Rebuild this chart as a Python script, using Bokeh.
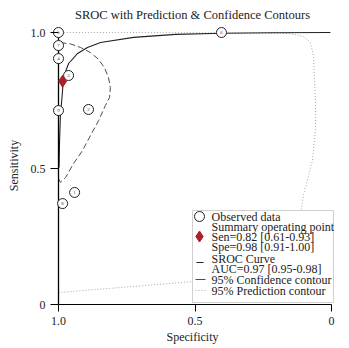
from bokeh.plotting import figure
from bokeh.models import Range1d, FixedTicker
from bokeh.core.properties import value
from bokeh.embed import file_html
from bokeh.resources import INLINE

# ---- data ----
study_ids = ["5", "7", "4", "3", "9", "2", "1", "8", "6"]
obs_spec = [1.0, 1.0, 1.0, 0.963, 1.0, 0.890, 0.941, 0.985, 0.403]
obs_sens = [1.0, 0.952, 0.904, 0.842, 0.713, 0.717, 0.412, 0.371, 1.0]

summary_spec = [0.985]
summary_sens = [0.821]

sroc_spec = [0.998, 0.996, 0.993, 0.986, 0.982, 0.963, 0.930, 0.894, 0.846, 0.725, 0.571, 0.400, 0.220, 0.004]
sroc_sens = [0.504, 0.603, 0.695, 0.776, 0.835, 0.886, 0.923, 0.945, 0.963, 0.982, 0.993, 0.997, 0.999, 1.0]

conf_spec = [0.993, 0.956, 0.919, 0.883, 0.853, 0.832, 0.817, 0.810, 0.813, 0.828, 0.853, 0.883,
             0.912, 0.945, 0.974, 0.993, 1.0, 1.0, 0.993]
conf_sens = [0.963, 0.958, 0.945, 0.926, 0.901, 0.871, 0.835, 0.798, 0.761, 0.732, 0.676, 0.621,
             0.566, 0.518, 0.467, 0.449, 0.463, 0.897, 0.963]

pred_spec = [1.0, 0.773, 0.498, 0.297, 0.187, 0.132, 0.114, 0.103, 0.084, 0.070, 0.059, 0.059,
             0.066, 0.077, 0.103, 0.150, 0.297, 0.663, 1.0, 1.0]
pred_sens = [0.044, 0.0625, 0.085, 0.107, 0.143, 0.235, 0.327, 0.401, 0.474, 0.529, 0.640, 0.750,
             0.915, 0.963, 0.985, 0.996, 0.998, 1.0, 1.0, 0.044]

x_ticks = [1.0, 0.5, 0.0]
x_tick_labels = ["1.0", "0.5", "0"]
y_ticks = [0.0, 0.5, 1.0]
y_tick_labels = ["0", "0.5", "1.0"]

title_text = "SROC with Prediction & Confidence Contours"
legend_lines = [
    "Observed data",
    "Summary operating point",
    "Sen=0.82 [0.61-0.93]",
    "Spe=0.98 [0.91-1.00]",
    "SROC Curve",
    "AUC=0.97 [0.95-0.98]",
    "95% Confidence contour",
    "95% Prediction contour",
]

FONT = "Liberation Serif"

# ---- layout (pixels) ----
W, H = 349, 348
FRAME_L, FRAME_R, FRAME_T, FRAME_B = 50, 334, 26, 304
X1_PX, X0_PX = 58, 331      # pixel of specificity 1.0 and 0
Y1_PX, Y0_PX = 32, 304      # pixel of sensitivity 1.0 and 0
SX = (X0_PX - X1_PX)        # px per unit
SY = (Y0_PX - Y1_PX)


def dx(px):
    return 1 - (px - X1_PX) / SX


def dy(py):
    return 1 - (py - Y1_PX) / SY


p = figure(width=W, height=H, output_backend="svg", toolbar_location=None,
           x_range=Range1d(dx(FRAME_L), dx(FRAME_R)), y_range=Range1d(dy(FRAME_B), dy(FRAME_T)),
           min_border_left=FRAME_L, min_border_right=W - FRAME_R,
           min_border_top=FRAME_T, min_border_bottom=H - FRAME_B,
           title=title_text)
p.outline_line_color = None
p.background_fill_color = "white"
p.border_fill_color = "white"
p.xgrid.visible = False
p.ygrid.visible = False

p.title.text_font = FONT
p.title.text_font_size = "12.5px"
p.title.text_font_style = "normal"
p.title.text_color = "#222222"
p.title.align = "center"
p.title.offset = 2

xa = p.xaxis[0]
xa.ticker = FixedTicker(ticks=x_ticks)
xa.major_label_overrides = {t: l for t, l in zip(x_ticks, x_tick_labels)}
xa.bounds = (0, 1)
xa.major_tick_out = 7
xa.major_tick_in = 0
xa.minor_tick_line_color = None
xa.axis_line_color = "black"
xa.major_tick_line_color = "black"
xa.major_label_standoff = 5
xa.axis_label = "Specificity"
xa.axis_label_standoff = 2

ya = p.yaxis[0]
ya.ticker = FixedTicker(ticks=y_ticks)
ya.major_label_overrides = {t: l for t, l in zip(y_ticks, y_tick_labels)}
ya.major_tick_out = 0
ya.major_tick_in = X1_PX - FRAME_L
ya.minor_tick_line_color = None
ya.axis_line_color = None
ya.major_tick_line_color = "black"
ya.major_label_standoff = 5
ya.axis_label = "Sensitivity"
ya.axis_label_standoff = 7

for ax in (xa, ya):
    ax.major_label_text_font = FONT
    ax.major_label_text_font_size = "12px"
    ax.major_label_text_color = "#222222"
    ax.axis_label_text_font = FONT
    ax.axis_label_text_font_size = "12px"
    ax.axis_label_text_font_style = "normal"
    ax.axis_label_text_color = "#222222"

PRED_STYLE = dict(line_color="#a8a8a8", line_width=1, line_dash="1 2")
CONF_STYLE = dict(line_color="#4d4d4d", line_width=1, line_dash="6 3")
SROC_STYLE = dict(line_color="#222222", line_width=1.1)
OBS_STYLE = dict(marker="circle", size=10, fill_color="white", line_color="#222222", line_width=1)
SUM_STYLE = dict(marker="diamond", size=12, fill_color="#a8202a", line_color="#a8202a")

p.line(pred_spec, pred_sens, **PRED_STYLE)
p.line(conf_spec, conf_sens, **CONF_STYLE)
p.line(sroc_spec, sroc_sens, **SROC_STYLE)

# left axis line at specificity = 1.0
p.segment(x0=[x_ticks[0]], y0=[y_ticks[0]], x1=[x_ticks[0]], y1=[y_ticks[-1]],
          line_color="black", line_width=1.3)

p.scatter(obs_spec, obs_sens, **OBS_STYLE)
p.text(x=obs_spec, y=obs_sens, text=study_ids, text_font=value(FONT), text_font_size="5px",
       text_align="center", text_baseline="middle", text_color="#8b1a1a")
p.scatter(summary_spec, summary_sens, **SUM_STYLE)

# ---- legend (key) ----
LEG_L, LEG_R, LEG_T, LEG_B = 192, 333, 210, 302
row_py = [216, 226, 236, 246, 258, 268, 279, 290]
TEXT_X = 211
GLYPH_X = 199

p.quad(left=[dx(LEG_L)], right=[dx(LEG_R)], top=[dy(LEG_T)], bottom=[dy(LEG_B)],
       fill_color="white", line_color="#d0d0d0", line_width=1)
p.scatter([dx(GLYPH_X)], [dy(row_py[0])], **OBS_STYLE)
p.scatter([dx(GLYPH_X)], [dy(row_py[2])], marker="diamond", size=11,
          fill_color="#a8202a", line_color="#a8202a")
p.line([dx(196), dx(203)], [dy(row_py[4] + 4)] * 2, **SROC_STYLE)
p.line([dx(195), dx(205)], [dy(row_py[6])] * 2, line_color="#4d4d4d", line_width=1.2)
p.line([dx(195), dx(207)], [dy(row_py[7])] * 2, **PRED_STYLE)
p.text(x=[dx(TEXT_X)] * len(legend_lines), y=[dy(v) for v in row_py], text=legend_lines,
       text_font=value(FONT), text_font_size="12px", text_color="#222222",
       text_align="left", text_baseline="middle")

open("out.html", "w").write(file_html(p, INLINE))
